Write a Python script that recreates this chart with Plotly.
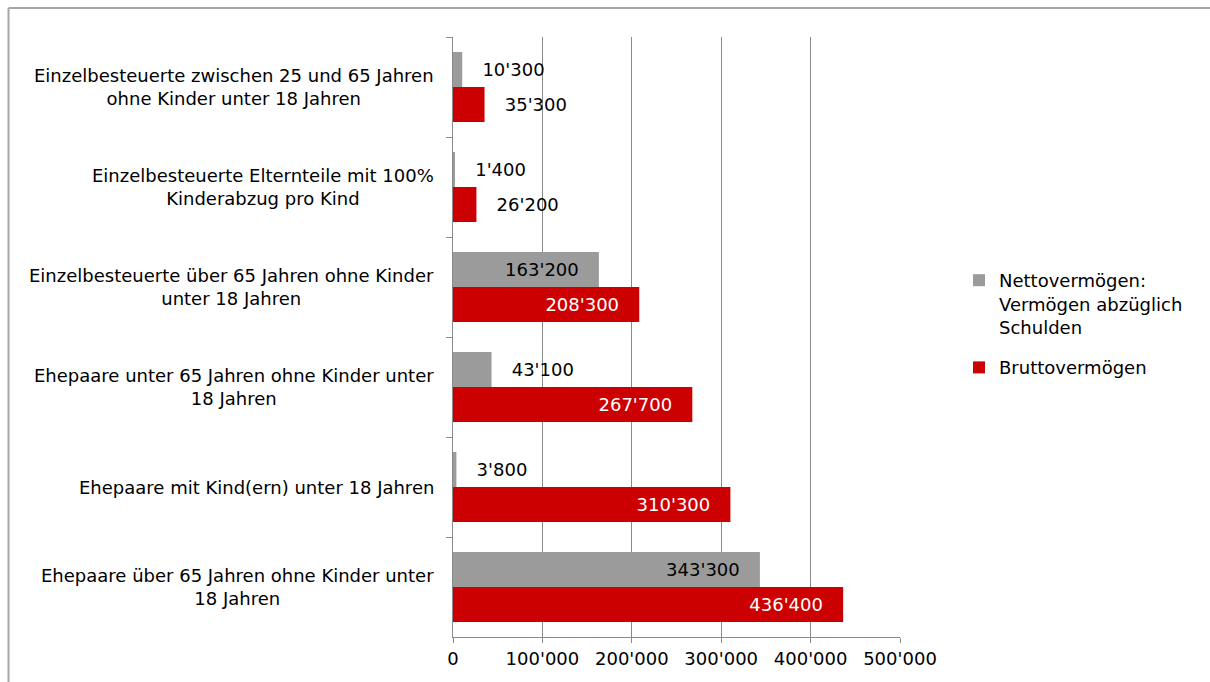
import plotly.graph_objects as go

categories = [
    "Einzelbesteuerte zwischen 25 und 65 Jahren<br>ohne Kinder unter 18 Jahren",
    "Einzelbesteuerte Elternteile mit 100%<br>Kinderabzug pro Kind",
    "Einzelbesteuerte über 65 Jahren ohne Kinder<br>unter 18 Jahren",
    "Ehepaare unter 65 Jahren ohne Kinder unter<br>18 Jahren",
    "Ehepaare mit Kind(ern) unter 18 Jahren",
    "Ehepaare über 65 Jahren ohne Kinder unter<br>18 Jahren",
]
netto = [10300, 1400, 163200, 43100, 3800, 343300]
brutto = [35300, 26200, 208300, 267700, 310300, 436400]
series_names = ["Nettovermögen:<br>Vermögen abzüglich<br>Schulden", "Bruttovermögen"]
x_ticks = [0, 100000, 200000, 300000, 400000, 500000]

GRAY = "#9b9b9b"
RED = "#cc0000"
FONT = "DejaVu Sans, Liberation Sans, Arial, sans-serif"
FS = 18
PAD = "\u00a0\u00a0\u00a0"

W, H = 1210, 682
L, R, T, B = 453, 310, 37, 45
PW = W - L - R
PH = H - T - B


def label_specs(values, inside_color):
    pos, tmpl, col = [], [], []
    for v in values:
        if v > 100000:
            pos.append("inside")
            tmpl.append("%{x:,}" + PAD)
            col.append(inside_color)
        else:
            pos.append("outside")
            tmpl.append(PAD + "%{x:,}")
            col.append("black")
    return pos, tmpl, col


fig = go.Figure()
for name, vals, color, inside_col, grp in [
    (series_names[0], netto, GRAY, "black", "a"),
    (series_names[1], brutto, RED, "white", "b"),
]:
    pos, tmpl, col = label_specs(vals, inside_col)
    fig.add_trace(go.Bar(
        y=categories, x=vals, name=name, orientation="h",
        marker=dict(color=color, line=dict(width=0)),
        textposition=pos, texttemplate=tmpl,
        textfont=dict(family=FONT, size=FS, color=col),
        insidetextanchor="end", constraintext="none", cliponaxis=False,
        legendgroup=grp, hoverinfo="x+name",
    ))

annotations = []
for c in categories:
    annotations.append(dict(
        x=0, xref="paper", y=c, yref="y", text=c, showarrow=False,
        xanchor="right", yanchor="middle", align="center", xshift=-17,
        font=dict(family=FONT, size=FS, color="black"),
    ))

bx = (8.5 - L) / PW
by = (T + PH - 8) / PH
border = dict(color="#a6a6a6", width=2)

fig.update_layout(
    width=W, height=H,
    margin=dict(l=L, r=R, t=T, b=B),
    paper_bgcolor="white", plot_bgcolor="white",
    barmode="group", bargap=0.3, bargroupgap=0,
    separators=".'",
    font=dict(family=FONT, size=FS, color="black"),
    annotations=annotations,
    legend=dict(
        x=(959 - L) / PW, xanchor="left", y=(T + PH - 262) / PH, yanchor="top",
        valign="top", traceorder="grouped", tracegroupgap=14,
        font=dict(family=FONT, size=FS, color="black"),
        bgcolor="rgba(0,0,0,0)",
    ),
    shapes=[
        dict(type="line", xref="paper", yref="paper", x0=bx, x1=3.0, y0=by, y1=by,
             line=border, layer="below"),
        dict(type="line", xref="paper", yref="paper", x0=bx, x1=bx, y0=-1.0, y1=by,
             line=border, layer="below"),
    ],
)
fig.update_xaxes(
    range=[0, 500000], tickvals=x_ticks, tickformat=",",
    showgrid=True, gridcolor="#8a8a8a", gridwidth=1,
    showline=True, linecolor="#8a8a8a", linewidth=1,
    ticks="outside", ticklen=5, tickcolor="#8a8a8a",
    zeroline=False, tickfont=dict(family=FONT, size=FS, color="black"),
)
fig.update_yaxes(
    autorange="reversed", type="category",
    showticklabels=False, showgrid=False,
    showline=True, linecolor="#8a8a8a", linewidth=1,
    ticks="outside", tickson="boundaries", ticklen=6, tickcolor="#8a8a8a",
    zeroline=False,
)

fig.write_html(
    "out.html",
    config={"displayModeBar": False},
    post_script="document.body.style.margin='0';document.body.style.overflow='hidden';",
)
